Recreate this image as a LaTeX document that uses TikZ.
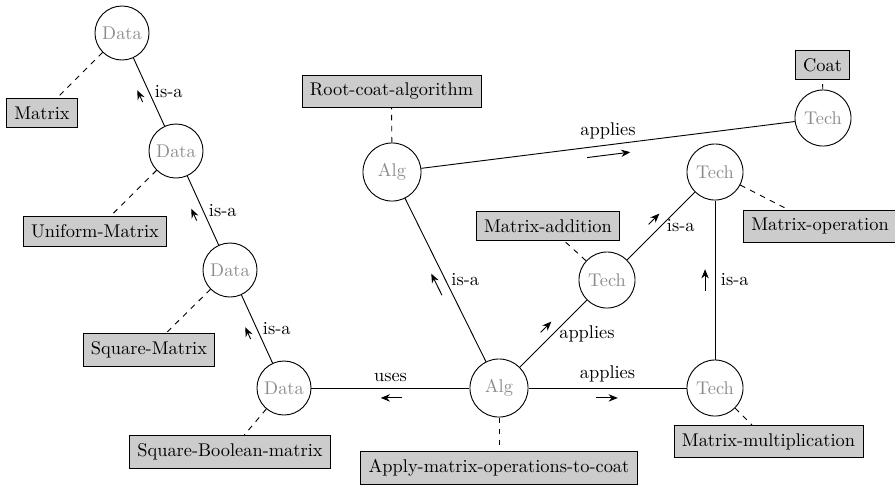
\documentclass[tikz,border=0pt]{standalone}
\usetikzlibrary{calc,arrows.meta}
\tikzset{
  base/.style={circle,draw,inner sep=0pt,text=black!45},
  datan/.style={base,minimum size=29.4pt},
  techn/.style={base,minimum size=30.5pt},
  algn/.style={base,minimum size=31.6pt},
  box/.style={draw,fill=black!20,inner sep=4.3pt},
  lbl/.style={inner sep=3pt},
  flowtip/.style={-{Stealth[length=5pt,width=4pt]}},
  link/.style={dashed},
}
\newcommand\flowmark[3]{\draw[flowtip] ($(#1)!0.45!(#2)!5.4pt!#3:(#2)$) -- ($(#1)!0.55!(#2)!5.4pt!#3:(#2)$);}
\begin{document}
\begin{tikzpicture}[x=0.544pt,y=-0.544pt,line width=0.5pt]
\useasboundingbox (0,0) rectangle (895,484);
% circles
\node[datan] (D1) at (122,33) {Data};
\node[datan] (D2) at (176,151) {Data};
\node[datan] (D3) at (230,270) {Data};
\node[datan] (D4) at (284,388) {Data};
\node[algn] (AB) at (499,388) {Alg};
\node[algn] (AT) at (392,172) {Alg};
\node[techn] (TC) at (823,118) {Tech};
\node[techn] (TO) at (715,172) {Tech};
\node[techn] (TA) at (607,280) {Tech};
\node[techn] (TM) at (715,388) {Tech};
% boxes
\node[box] (bM) at (42,113) {Matrix};
\node[box] (bU) at (95,231.5) {Uniform-Matrix};
\node[box] (bS) at (149,350) {Square-Matrix};
\node[box] (bB) at (230,452) {Square-Boolean-matrix};
\node[box] (bA) at (499,468) {Apply-matrix-operations-to-coat};
\node[box] (bR) at (391.5,91.5) {Root-coat-algorithm};
\node[box] (bC) at (822.5,65) {Coat};
\node[box] (bO) at (820,226) {Matrix-operation};
\node[box] (bD) at (548,226) {Matrix-addition};
\node[box] (bX) at (768.5,441.5) {Matrix-multiplication};
% dashed links
\draw[link] (D1) -- (bM);
\draw[link] (D2) -- (bU);
\draw[link] (D3) -- (bS);
\draw[link] (D4) -- (bB);
\draw[link] (AB) -- (bA);
\draw[link] (AT) -- (bR);
\draw[link] (TC) -- (bC);
\draw[link] (TO) -- (bO);
\draw[link] (TA) -- (bD);
\draw[link] (TM) -- (bX);
% relations
\draw (D2) -- (D1) node[lbl,midway,anchor=west] {is-a};
\flowmark{D2}{D1}{90}
\draw (D3) -- (D2) node[lbl,midway,anchor=west] {is-a};
\flowmark{D3}{D2}{90}
\draw (D4) -- (D3) node[lbl,midway,anchor=west] {is-a};
\flowmark{D4}{D3}{90}
\draw (AB) -- (D4) node[lbl,midway,anchor=south] {uses};
\flowmark{AB}{D4}{90}
\draw (AB) -- (TM) node[lbl,midway,anchor=south] {applies};
\flowmark{AB}{TM}{-90}
\draw (AB) -- (TA) node[lbl,midway,anchor=west] {applies};
\flowmark{AB}{TA}{90}
\draw (AB) -- (AT) node[lbl,midway,anchor=west] {is-a};
\flowmark{AB}{AT}{90}
\draw (AT) -- (TC) node[lbl,midway,anchor=south] {applies};
\flowmark{AT}{TC}{-90}
\draw (TA) -- (TO) node[lbl,midway,anchor=west] {is-a};
\flowmark{TA}{TO}{90}
\draw (TM) -- (TO) node[lbl,midway,anchor=west] {is-a};
\flowmark{TM}{TO}{90}
\end{tikzpicture}
\end{document}
